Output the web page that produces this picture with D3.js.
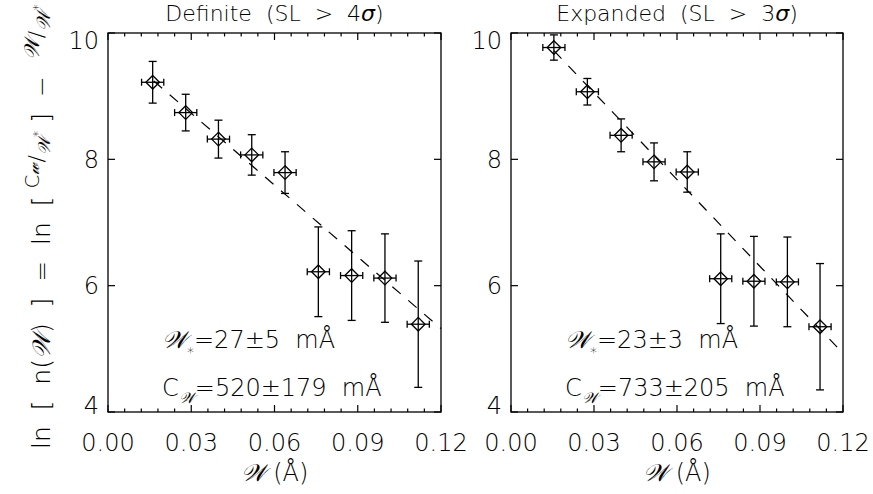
<!DOCTYPE html>
<html><head><meta charset="utf-8">
<script src="https://cdn.jsdelivr.net/npm/d3@7"></script>
<style>
body{margin:0;background:#fff}
svg{display:block}
text{font-family:"DejaVu Sans",sans-serif;fill:#000;white-space:pre;font-weight:200}
</style>
</head><body>
<svg id="c" width="873" height="494"></svg>
<script>
// ---------- data ----------
const titles = ["Definite  (SL  >  4", "Expanded  (SL  >  3"];
const xTicks = [0, 0.03, 0.06, 0.09, 0.12];
const xTickLabels = ["0.00", "0.03", "0.06", "0.09", "0.12"];
const yTicks = [4, 6, 8, 10];
const yTickLabels = ["4", "6", "8", "10"];

const defW    = [0.0161, 0.0280, 0.0398, 0.0518, 0.0638, 0.0758, 0.0878, 0.0998, 0.1118];
const defY    = [9.22, 8.74, 8.32, 8.07, 7.79, 6.22, 6.16, 6.12, 5.39];
const defYErr = [0.33, 0.29, 0.30, 0.32, 0.33, 0.71, 0.71, 0.70, 1.00];
const defWErr = [0.004, 0.004, 0.004, 0.004, 0.004, 0.004, 0.004, 0.004, 0.004];
const defFitW = [0.0165, 0.12];
const defFitY = [9.24, 5.32];

const expW    = [0.0155, 0.0276, 0.0398, 0.0517, 0.0637, 0.0758, 0.0878, 0.0999, 0.1117];
const expY    = [9.77, 9.07, 8.38, 7.96, 7.80, 6.11, 6.07, 6.06, 5.35];
const expYErr = [0.20, 0.21, 0.26, 0.30, 0.32, 0.71, 0.71, 0.71, 1.00];
const expWErr = [0.004, 0.004, 0.004, 0.004, 0.004, 0.004, 0.004, 0.004, 0.004];
const expFitW = [0.0155, 0.12];
const expFitY = [9.72, 4.93];

const wStar = ["27±5", "23±3"];
const cW    = ["520±179", "733±205"];

const SW = "\u{1D4B2}"; // script W
const SF = "DejaVu Serif";

// ---------- drawing ----------
const svg = d3.select("#c");
const panels = [
  {x0:108, x1:441, W:defW, Y:defY, YE:defYErr, WE:defWErr, fw:defFitW, fy:defFitY, t:titles[0], ws:wStar[0], cw:cW[0]},
  {x0:511, x1:843, W:expW, Y:expY, YE:expYErr, WE:expWErr, fw:expFitW, fy:expFitY, t:titles[1], ws:wStar[1], cw:cW[1]}
];
const yTop = 33, yBot = 412;
const FS = 24;

panels.forEach(p => {
  const x = d3.scaleLinear().domain([0, 0.12]).range([p.x0, p.x1]);
  const y = d3.scaleLinear().domain([4, 10]).range([yBot, yTop]);
  const g = svg.append("g");

  // frame
  g.append("rect").attr("x", p.x0).attr("y", yTop).attr("width", p.x1 - p.x0).attr("height", yBot - yTop)
    .attr("fill", "none").attr("stroke", "#000").attr("stroke-width", 1.3);

  // x ticks (major + minor), bottom and top
  const minor = d3.range(0, 0.1201, 0.006);
  const isMajor = v => xTicks.some(t => Math.abs(t - v) < 1e-6);
  minor.forEach(v => {
    const L = isMajor(v) ? 7 : 3.5;
    g.append("line").attr("x1", x(v)).attr("x2", x(v)).attr("y1", yBot).attr("y2", yBot - L).attr("stroke", "#000").attr("stroke-width", 1.2);
    g.append("line").attr("x1", x(v)).attr("x2", x(v)).attr("y1", yTop).attr("y2", yTop + L).attr("stroke", "#000").attr("stroke-width", 1.2);
  });
  yTicks.forEach(v => {
    g.append("line").attr("x1", p.x0).attr("x2", p.x0 + 7).attr("y1", y(v)).attr("y2", y(v)).attr("stroke", "#000").attr("stroke-width", 1.2);
    g.append("line").attr("x1", p.x1).attr("x2", p.x1 - 7).attr("y1", y(v)).attr("y2", y(v)).attr("stroke", "#000").attr("stroke-width", 1.2);
  });

  // tick labels
  xTicks.forEach((v, i) => {
    g.append("text").attr("x", x(v)).attr("y", 451).attr("text-anchor", "middle")
      .attr("font-size", FS).text(xTickLabels[i]);
  });
  yTicks.forEach((v, i) => {
    const shift = v === 10 ? 7 : (v === 4 ? -7 : 0);
    g.append("text").attr("x", p.x0 - 9).attr("y", y(v) + 8.5 + shift).attr("text-anchor", "end")
      .attr("font-size", FS).text(yTickLabels[i]);
  });

  // title
  const t = g.append("text").attr("x", (p.x0 + p.x1) / 2).attr("y", 21).attr("text-anchor", "middle").attr("font-size", 22);
  t.append("tspan").text(p.t);
  t.append("tspan").attr("font-style", "italic").text("σ");
  t.append("tspan").text(")");

  // x label
  const xl = g.append("text").attr("x", (p.x0 + p.x1) / 2).attr("y", 481).attr("text-anchor", "middle").attr("font-size", FS);
  xl.append("tspan").attr("font-family", SF).attr("font-style", "italic").text(SW);
  xl.append("tspan").text(" (Å)");

  // fit line
  g.append("line").attr("x1", x(p.fw[0])).attr("y1", y(p.fy[0])).attr("x2", x(p.fw[1])).attr("y2", y(p.fy[1]))
    .attr("stroke", "#000").attr("stroke-width", 1.2).attr("stroke-dasharray", "11,10");

  // error bars + diamonds
  p.W.forEach((w, i) => {
    const cx = x(w), cy = y(p.Y[i]);
    const yt = y(p.Y[i] + p.YE[i]), yb = y(p.Y[i] - p.YE[i]);
    const xl_ = x(w - p.WE[i]), xr = x(w + p.WE[i]);
    const ln = (a,b,c,d) => g.append("line").attr("x1",a).attr("y1",b).attr("x2",c).attr("y2",d).attr("stroke","#000").attr("stroke-width",1.3);
    ln(cx, yt, cx, yb); ln(cx-4, yt, cx+4, yt); ln(cx-4, yb, cx+4, yb);
    ln(xl_, cy, xr, cy); ln(xl_, cy-3.5, xl_, cy+3.5); ln(xr, cy-3.5, xr, cy+3.5);
    const d = 6.8;
    g.append("path").attr("d", `M${cx},${cy-d}L${cx+d},${cy}L${cx},${cy+d}L${cx-d},${cy}Z`)
      .attr("fill", "none").attr("stroke", "#000").attr("stroke-width", 1.3);
  });

  // annotations
  const ax = p.x0 + 54;
  const a1 = g.append("text").attr("x", ax).attr("y", 348).attr("font-size", FS);
  a1.append("tspan").attr("font-family", SF).attr("font-style", "italic").text(SW);
  a1.append("tspan").attr("dy", 9).attr("font-size", 14).text("*");
  a1.append("tspan").attr("dy", -9).text("=" + p.ws + "  mÅ");
  const a2 = g.append("text").attr("x", ax).attr("y", 396).attr("font-size", FS);
  a2.append("tspan").text("C");
  a2.append("tspan").attr("dy", 7).attr("font-size", 15).attr("font-family", SF).attr("font-style", "italic").text(SW);
  a2.append("tspan").attr("dy", -7).text("=" + p.cw + "  mÅ");
});

// y-axis label (rotated)
const yl = svg.append("text").attr("transform", "translate(50,449) rotate(-90)").attr("font-size", 25);
yl.append("tspan").text("ln  [  n(");
yl.append("tspan").attr("font-family", SF).attr("font-style", "italic").text(SW);
yl.append("tspan").text(")  ]  =  ln  [ ");
yl.append("tspan").attr("dy", -11).attr("font-size", 20).text("C");
yl.append("tspan").attr("font-size", 17).attr("font-family", SF).attr("font-style", "italic").text("\u{1D4CC}");
yl.append("tspan").attr("dy", 5).attr("font-size", 22).text("/");
yl.append("tspan").attr("dy", 6).attr("font-size", 17).attr("font-family", SF).attr("font-style", "italic").text(SW);
yl.append("tspan").attr("dy", -8).attr("font-size", 13).text("*");
yl.append("tspan").attr("dy", 8).text(" ]  −  ");
yl.append("tspan").attr("dy", -11).attr("font-size", 21).attr("font-family", SF).attr("font-style", "italic").text(SW);
yl.append("tspan").attr("dy", 5).attr("font-size", 22).text("/");
yl.append("tspan").attr("dy", 6).attr("font-size", 19).attr("font-family", SF).attr("font-style", "italic").text(SW);
yl.append("tspan").attr("dy", -8).attr("font-size", 13).text("*");
</script>
</body></html>
